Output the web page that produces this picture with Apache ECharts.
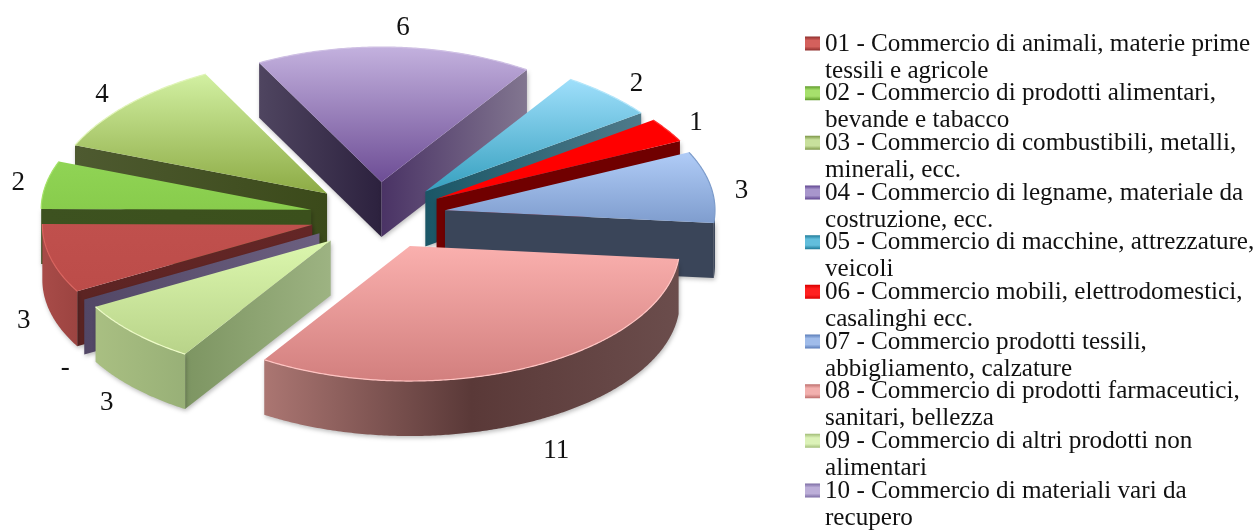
<!DOCTYPE html>
<html>
<head>
<meta charset="utf-8">
<style>html,body{margin:0;padding:0;background:#fff}#c{width:1260px;height:532px}</style>
<script src="https://cdn.jsdelivr.net/npm/echarts@6/dist/echarts.min.js"></script>
</head>
<body>
<div id="c"></div>
<script>
const categories = [
  "01 - Commercio di animali, materie prime\ntessili e agricole",
  "02 - Commercio di prodotti alimentari,\nbevande e tabacco",
  "03 - Commercio di combustibili, metalli,\nminerali, ecc.",
  "04 - Commercio di legname, materiale da\ncostruzione, ecc.",
  "05 - Commercio di macchine, attrezzature,\nveicoli",
  "06 - Commercio mobili, elettrodomestici,\ncasalinghi ecc.",
  "07 - Commercio prodotti tessili,\nabbigliamento, calzature",
  "08 - Commercio di prodotti farmaceutici,\nsanitari, bellezza",
  "09 - Commercio di altri prodotti non\nalimentari",
  "10 - Commercio di materiali vari da\nrecupero"
];
const values = [3, 2, 4, 6, 2, 1, 3, 11, 3, 0];
const paintOrder = [6, 3, 1, 0, 2, 4, 5, 9, 8, 7]; // stacking rank per slice (back to front)

const topColors = [
  ["#c0504d", "#bc4c49"], ["#90d455", "#88cc4c"], ["#d2f0a2", "#8dab45"], ["#c3b1de", "#6d4d95"],
  ["#9fdffb", "#36a0bf"], ["#ff0000", "#ff0000"], ["#b0ccf7", "#7f9dce"], ["#fab0ae", "#d27f7e"],
  ["#dcf7ae", "#b8d389"], ["#7d6a96", "#7d6a96"]
];
const outerWalls = [
  ["#a84b48", "#9c4441"], ["#3c5420", "#3c5420"], ["#4e5a30", "#3a4a1a"], ["#7a6f8a", "#7a6f8a"],
  ["#4f7a8a", "#4f7a8a"], ["#700000", "#700000"], ["#3a4559", "#3a4559"], ["#ab7672", "#5a3938", "#6b4d4c"],
  ["#a9bf82", "#98b077"], ["#5f5272", "#5f5272"]
];
const radialWalls = [
  ["#5c2423", "#642626"], ["#3d5220", "#3b501c"], ["#4e5a30", "#3b4a1a"], ["#4f4560", "#2c213e"],
  ["#1a5666", "#4f7a8a"], ["#700000", "#700000"], ["#3a4559", "#3a4559"], ["#5a3938", "#5a3938"],
  ["#7d9562", "#9db382"], ["#524766", "#6c6080"]
];
const endWalls = [
  ["#5c2423", "#642626"], ["#3d5220", "#3b501c"], ["#4e5a30", "#3b4a1a"], ["#4a3365", "#827690"],
  ["#1a5666", "#4f7a8a"], ["#700000", "#700000"], ["#3a4559", "#3a4559"], ["#5a3938", "#5a3938"],
  ["#7d9562", "#9db382"], ["#524766", "#6c6080"]
];
const rimColors = ["#d9645f", "#a4e268", "#e0f4b8", "#cfc0e4", "#b4e6fa", "#ff3030", "#7d9ccb", "#ffc4c2", "#eefcc8", "#6c6080"];
const legendColors = [
  ["#8f2f2d", "#d4605c"], ["#5f9a2a", "#a6e06c"], ["#7d9648", "#c8e09c"], ["#5f4590", "#a896cc"],
  ["#1f7a98", "#62bedc"], ["#d80000", "#ff2020"], ["#5a7cb8", "#a0bcea"], ["#bd6e6c", "#f2b0ae"],
  ["#a2bd78", "#dcf2b8"], ["#7c6ca4", "#bcaed8"]
];
const labelNudge = [[1, 2], [2, 1], [-6, 1], [7, -4], [9, 0], [4, 0], [1, 7], [6, 17], [-4, 6], [7, 6]];

const total = values.reduce((a, b) => a + b, 0);
const starts = values.map((_, i) => values.slice(0, i).reduce((a, b) => a + b, 0));
const CX = 378, CY = 216, RADIUS = 270, SQUASH = 0.5, DEPTH = 55, EXPLODE = 68, LABEL_R = 300;
const FRONT_DEG = 210, FRONT_SPAN = 45, FRONT_SHIFT = 4;
const START_DEG = 239.5;
const grad = (cols, horizontal) => new echarts.graphic.LinearGradient(0, 0, horizontal ? 1 : 0, horizontal ? 0 : 1,
  cols.map((c, i) => ({ offset: i / (cols.length - 1), color: c })));
const iconGrad = cols => new echarts.graphic.LinearGradient(0, 0, 0, 1, [
  { offset: 6 / 54, color: cols[0] }, { offset: 10 / 54, color: cols[1] },
  { offset: 16 / 54, color: cols[1] }, { offset: 20 / 54, color: cols[0] }
]);
const shadow = { shadowBlur: 4, shadowColor: "rgba(0,0,0,0.26)", shadowOffsetX: 1, shadowOffsetY: 2 };
const degOf = val => val / total * 360 + START_DEG;

// The reference view has a slight perspective: front rim swings left, back rim draws in.
function warp(val) {
  let d = ((degOf(val) % 360) + 360) % 360 - FRONT_DEG;
  if (Math.abs(d) >= FRONT_SPAN) return val;
  const c = Math.cos(Math.PI / 2 * d / FRONT_SPAN);
  return val + FRONT_SHIFT * c * c / 360 * total;
}
const backFactor = dy => dy < -70 ? 1 - 0.03 * (-dy - 70) / 75 : 1;

function renderSlice(params, api) {
  const i = params.seriesIndex;
  const v = api.value(0), v0 = starts[i], v1 = v0 + v, mid = v0 + v / 2;
  const centre = api.coord([0, 0]);
  const exp = api.coord([EXPLODE, mid]);
  const ox = exp[0] - centre[0], oy = exp[1] - centre[1];
  const project = (r, val) => {
    const p = api.coord([r, r > 0 ? warp(val) : val]);
    const y = centre[1] + (p[1] + oy - centre[1]) * SQUASH;
    const x = p[0] + ox;
    return [centre[0] + (x - centre[0]) * backFactor(y - centre[1]), y];
  };
  const down = p => [p[0], p[1] + DEPTH];
  const apex = project(0, mid);
  const rim = [];
  const steps = Math.max(1, Math.ceil(v / 0.05));
  for (let s = 0; s <= steps; s++) rim.push(project(RADIUS, v0 + (v1 - v0) * s / steps));
  const thetaOf = val => degOf(val) * Math.PI / 180;
  const children = [];
  const poly = (pts, fill, extra) => children.push({
    type: "polygon", silent: true, shape: { points: pts }, style: Object.assign({ fill: fill }, extra || {})
  });
  // faces nearest the viewer only
  if (Math.sin(thetaOf(v0)) < 0) {
    const a = rim[0];
    poly([apex, a, down(a), down(apex)], grad(radialWalls[i], true), shadow);
  }
  if (Math.sin(thetaOf(v1)) > 0) {
    const a = rim[rim.length - 1];
    poly([apex, a, down(a), down(apex)], grad(endWalls[i], true), shadow);
  }
  const outer = rim.filter((_, s) => Math.cos(thetaOf(v0 + (v1 - v0) * s / steps)) < 0);
  if (outer.length > 1) {
    poly(outer.concat(outer.slice().reverse().map(down)), grad(outerWalls[i], true), shadow);
  }
  if (v > 0) {
    poly([apex].concat(rim), grad(topColors[i], false));
    children.push({
      type: "polyline", silent: true, shape: { points: rim },
      style: { fill: null, stroke: rimColors[i], lineWidth: 1.2 }
    });
  }
  const lab = project(LABEL_R, mid);
  const front = Math.cos(thetaOf(mid)) < -0.2 ? DEPTH : 0;
  children.push({
    type: "text", silent: true,
    style: {
      text: v === 0 ? "-" : String(v),
      x: lab[0] + labelNudge[i][0], y: lab[1] + front + labelNudge[i][1],
      fill: "#111", font: "27px 'Liberation Serif'", align: "center", verticalAlign: "middle"
    }
  });
  return { type: "group", children: children };
}

const chart = echarts.init(document.getElementById("c"), null, { renderer: "canvas" });
chart.setOption({
  animation: false,
  backgroundColor: "#fff",
  polar: { center: [CX, CY], radius: RADIUS },
  angleAxis: { type: "value", min: 0, max: total, startAngle: 90 - START_DEG, show: false },
  radiusAxis: { type: "value", min: 0, max: RADIUS, show: false },
  legend: {
    orient: "vertical", left: 805, top: 30.5, height: 700, padding: 0, itemGap: -4.33, itemWidth: 15, itemHeight: 54,
    selectedMode: false, data: categories,
    icon: "path://M0 0L0 0.01M0 6H15V20H0ZM0 54L0 53.99",
    textStyle: { fontFamily: "Liberation Serif", fontSize: 25.15, lineHeight: 27, color: "#111" }
  },
  series: categories.map((name, i) => ({
    type: "custom", name: name, coordinateSystem: "polar", z: paintOrder[i],
    itemStyle: { color: iconGrad(legendColors[i]) },
    renderItem: renderSlice, data: [[values[i]]]
  }))
});
</script>
</body>
</html>
